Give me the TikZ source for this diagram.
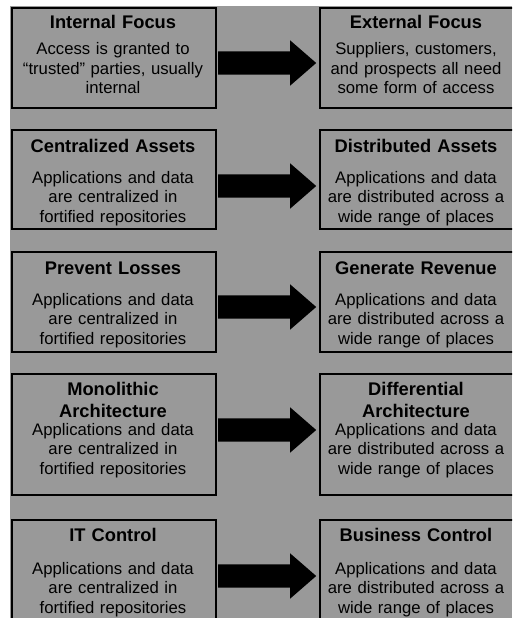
\documentclass[tikz,border=0pt]{standalone}
\usepackage{fontspec}
\setmainfont{Liberation Sans}
\usepackage{xcolor}
\usetikzlibrary{shapes.arrows}
\definecolor{panelgray}{RGB}{153,153,153}

\begin{document}
\begin{tikzpicture}[x=1pt,y=-1pt,
  box/.style={draw=black,line width=2pt,inner sep=0pt,anchor=north west},
  boxtitle/.style={font=\fontsize{18.3}{22}\selectfont\bfseries,anchor=base,inner sep=0pt,text width=200pt,align=center},
  boxtext/.style={font=\fontsize{16.7}{19.5}\selectfont,anchor=base,inner sep=0pt,text width=200pt,align=center},
  bigarrow/.style={single arrow,fill=black,draw=none,anchor=tail,inner xsep=0pt,inner ysep=11.5pt,minimum height=98pt,minimum width=45pt,single arrow head extend=11pt,single arrow tip angle=82}]
\useasboundingbox (0,0) rectangle (512,618);
\clip (0,0) rectangle (512,618);
\fill [panelgray] (10,6) rectangle (512,618);
% row 1
\node [box,minimum width=204pt,minimum height=100pt] (l1) at (11,7) {};
\node [box,minimum width=211pt,minimum height=100pt] (r1) at (319,7) {};
\node [boxtitle] (l1t) at (113,29) {Internal Focus};
\node [boxtext] (l1b) at (113,55) {Access is granted to\\``trusted'' parties, usually\\internal};
\node [boxtitle] (r1t) at (416,29) {External Focus};
\node [boxtext] (r1b) at (416,55) {Suppliers, customers,\\and prospects all need\\some form of access};
\node [bigarrow] (a1) at (218,63) {};
% row 2
\node [box,minimum width=204pt,minimum height=99pt] (l2) at (11,129) {};
\node [box,minimum width=211pt,minimum height=99pt] (r2) at (319,129) {};
\node [boxtitle] (l2t) at (113,152) {Centralized Assets};
\node [boxtext] (l2b) at (113,183) {Applications and data\\are centralized in\\fortified repositories};
\node [boxtitle] (r2t) at (416,152) {Distributed Assets};
\node [boxtext] (r2b) at (416,183) {Applications and data\\are distributed across a\\wide range of places};
\node [bigarrow] (a2) at (218,186) {};
% row 3
\node [box,minimum width=204pt,minimum height=100pt] (l3) at (11,251) {};
\node [box,minimum width=211pt,minimum height=100pt] (r3) at (319,251) {};
\node [boxtitle] (l3t) at (113,274) {Prevent Losses};
\node [boxtext] (l3b) at (113,305) {Applications and data\\are centralized in\\fortified repositories};
\node [boxtitle] (r3t) at (416,274) {Generate Revenue};
\node [boxtext] (r3b) at (416,305) {Applications and data\\are distributed across a\\wide range of places};
\node [bigarrow] (a3) at (218,307) {};
% row 4
\node [box,minimum width=204pt,minimum height=121pt] (l4) at (11,373) {};
\node [box,minimum width=211pt,minimum height=121pt] (r4) at (319,373) {};
\node [boxtitle] (l4t) at (113,395) {Monolithic\\Architecture};
\node [boxtext] (l4b) at (113,435) {Applications and data\\are centralized in\\fortified repositories};
\node [boxtitle] (r4t) at (416,395) {Differential\\Architecture};
\node [boxtext] (r4b) at (416,435) {Applications and data\\are distributed across a\\wide range of places};
\node [bigarrow] (a4) at (218,430) {};
% row 5
\node [box,minimum width=204pt,minimum height=104pt] (l5) at (11,519) {};
\node [box,minimum width=211pt,minimum height=104pt] (r5) at (319,519) {};
\node [boxtitle] (l5t) at (113,541) {IT Control};
\node [boxtext] (l5b) at (113,574) {Applications and data\\are centralized in\\fortified repositories};
\node [boxtitle] (r5t) at (416,541) {Business Control};
\node [boxtext] (r5b) at (416,574) {Applications and data\\are distributed across a\\wide range of places};
\node [bigarrow] (a5) at (218,576) {};
\end{tikzpicture}
\end{document}
